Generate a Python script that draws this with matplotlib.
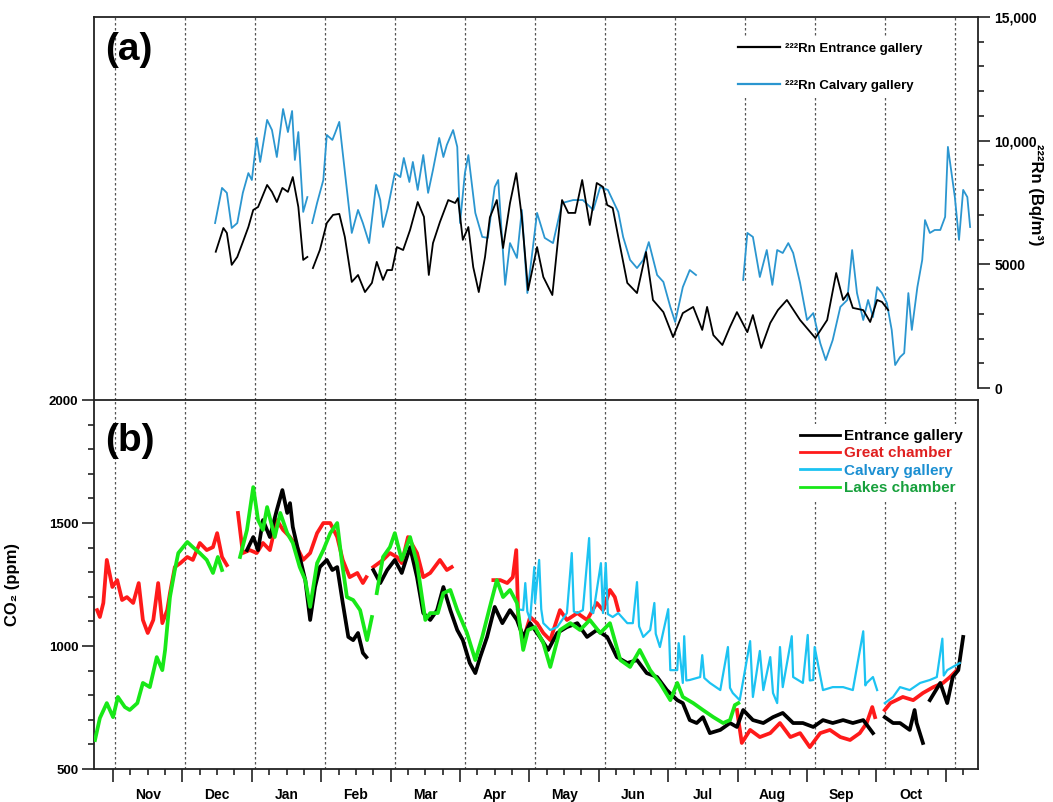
"""Radon and CO2 time series for the cave galleries (two stacked panels)."""

import matplotlib.pyplot as plt
import numpy as np
from matplotlib.ticker import FuncFormatter, MultipleLocator
from matplotlib.transforms import blended_transform_factory

plt.rcParams["font.family"] = ["Liberation Sans", "DejaVu Sans"]
plt.rcParams["font.weight"] = "bold"

# time axis: months since 1 Nov (None in a value list = data gap)
month_labels = ["Nov", "Dec", "Jan", "Feb", "Mar", "Apr",
                "May", "Jun", "Jul", "Aug", "Sep", "Oct"]

# ---- (a) 222Rn, Bq/m3 ----
rn_entrance_t = [1.48, 1.59, 1.64, 1.71, 1.79, 1.87, 1.95, 2.02, 2.09, 2.22, 2.29, 2.36,
                 2.44, 2.52, 2.59, 2.67, 2.74, 2.80, 2.84, 2.88, 2.98, 3.08, 3.17, 3.26,
                 3.34, 3.44, 3.53, 3.63, 3.73, 3.80, 3.89, 3.95, 4.02, 4.09, 4.18, 4.28,
                 4.39, 4.48, 4.55, 4.61, 4.71, 4.83, 4.93, 4.97, 5.04, 5.12, 5.19, 5.27,
                 5.36, 5.43, 5.53, 5.62, 5.72, 5.81, 5.89, 5.98, 6.11, 6.20, 6.33, 6.47,
                 6.56, 6.66, 6.76, 6.87, 6.97, 7.06, 7.12, 7.20, 7.28, 7.41, 7.55, 7.68,
                 7.78, 7.93, 8.07, 8.21, 8.36, 8.49, 8.56, 8.65, 8.78, 8.89, 8.99, 9.14,
                 9.22, 9.34, 9.47, 9.58, 9.71, 9.90, 10.12, 10.29, 10.42, 10.52, 10.59,
                 10.66, 10.81, 10.91, 11.01, 11.08, 11.17]
rn_entrance_v = [5510, 6470, 6270, 4980, 5300, 5900, 6510, 7200, 7320, 8210, 7930, 7520,
                 8090, 7930, 8530, 7320, 5180, 5300, None, 4850, 5580, 6670, 7000, 7040,
                 6110, 4290, 4570, 3880, 4250, 5100, 4370, 4770, 4770, 5700, 5580, 6390,
                 7520, 6920, 4570, 5860, 6710, 7600, 7480, 7680, 5990, 6510, 4890, 3880,
                 5300, 6900, 7600, 5660, 7480, 8690, 6920, 3960, 5700, 4490, 3760, 7600,
                 7080, 7080, 8410, 6590, 8290, 8130, 7400, 7280, 6110, 4250, 3840, 5500,
                 3560, 3070, 2060, 3030, 3280, 2350, 3280, 2140, 1740, 2470, 3070, 2260,
                 2950, 1620, 2630, 3150, 3560, 2750, 2020, 2750, 4650, 3560, 3840,
                 3240, 3150, 2670, 3560, 3480, 3150]

rn_calvary_t = [1.47, 1.57, 1.64, 1.71, 1.79, 1.87, 1.95, 2.00, 2.07, 2.12, 2.22, 2.29,
                2.36, 2.45, 2.52, 2.58, 2.62, 2.67, 2.74, 2.80, 2.84, 2.87, 2.94, 3.03,
                3.08, 3.16, 3.20, 3.26, 3.31, 3.44, 3.53, 3.60, 3.69, 3.79, 3.85, 3.89,
                3.96, 4.06, 4.14, 4.19, 4.27, 4.32, 4.39, 4.47, 4.54, 4.61, 4.70, 4.76,
                4.81, 4.90, 4.96, 5.00, 5.07, 5.12, 5.22, 5.32, 5.40, 5.50, 5.55, 5.65,
                5.72, 5.82, 5.89, 5.97, 6.11, 6.22, 6.34, 6.47, 6.63, 6.77, 6.92, 7.02,
                7.13, 7.28, 7.35, 7.45, 7.55, 7.64, 7.72, 7.84, 7.93, 8.03, 8.10, 8.21,
                8.31, 8.40, 8.70, 9.08, 9.14, 9.22, 9.32, 9.42, 9.50, 9.57, 9.65, 9.73,
                9.80, 9.90, 10.00, 10.09, 10.19, 10.27, 10.37, 10.48, 10.58, 10.65, 10.72,
                10.81, 10.88, 10.95, 11.01, 11.08, 11.15, 11.22, 11.27, 11.34, 11.40,
                11.46, 11.51, 11.59, 11.66, 11.70, 11.77, 11.84, 11.92, 11.99, 12.03,
                12.09, 12.13, 12.19, 12.25, 12.31, 12.35]
rn_calvary_v = [6670, 8090, 7890, 6470, 6670, 7890, 8690, 8410, 10110, 9140, 10840, 10430,
                9340, 11280, 10350, 11200, 9220, 10350, 7120, 7720, None, 6670, 7480, 8410,
                10230, 10030, 10310, 10760, 9500, 6270, 7200, 6670, 5860, 8210, 7600, 6510,
                7280, 8690, 8530, 9300, 8330, 9140, 8010, 9420, 7890, 8820, 10110, 9340,
                9830, 10430, 9750, 6670, 8690, 9420, 7080, 6110, 6070, 8130, 8410, 4170,
                5860, 5260, 7200, 3840, 7080, 6070, 5860, 7480, 7600, 7600, 7200, 8130,
                8010, 7120, 6110, 5180, 4850, 5180, 5900, 4570, 4290, 3280, 2670, 4080,
                4770, 4570, None, 4370, 6270, 6110, 4490, 5580, 4170, 5580, 5460, 5860,
                5460, 4250, 2750, 3030, 1820, 1130, 1940, 3280, 3560, 5580, 3840,
                2750, 3560, 2870, 4080, 3840, 3440, 2350, 930, 1250, 1410,
                3840, 2350, 4080, 5180, 6790, 6270, 6390, 6390, 6920, 9750,
                8530, 7720, 5990, 8010, 7720, 6510]

# ---- (b) CO2, ppm ----
co2_great_t = [-0.23, -0.19, -0.14, -0.09, -0.01, 0.06, 0.13, 0.20, 0.29, 0.37, 0.43, 0.50,
               0.58, 0.65, 0.71, 0.78, 0.82, 0.89, 0.97, 1.07, 1.15, 1.25, 1.35, 1.44,
               1.50, 1.57, 1.64, 1.72, 1.80, 1.87, 1.97, 2.07, 2.16, 2.26, 2.36, 2.45,
               2.55, 2.65, 2.74, 2.84, 2.94, 3.03, 3.13, 3.23, 3.31, 3.41, 3.52, 3.60,
               3.65, 3.70, 3.75, 3.89, 3.99, 4.09, 4.16, 4.25, 4.38, 4.47, 4.57, 4.71,
               4.81, 4.88, 5.20, 5.48, 5.58, 5.68, 5.76, 5.81, 5.84, 5.91, 6.01, 6.11,
               6.20, 6.30, 6.44, 6.54, 6.69, 6.83, 6.97, 7.06, 7.16, 7.23, 7.28, 8.50,
               8.99, 9.06, 9.18, 9.32, 9.47, 9.61, 9.76, 9.90, 10.04, 10.19, 10.33,
               10.48, 10.62, 10.76, 10.86, 10.94, 10.98, 11.05, 11.12, 11.20, 11.38,
               11.53, 11.67, 11.82, 11.96, 12.06, 12.16]
co2_great_v = [1146, 1118, 1175, 1350, 1240, 1268, 1187, 1199, 1175, 1256, 1106, 1053,
               1106, 1256, 1093, 1146, 1215, 1321, 1337, 1362, 1350, 1419, 1390, 1402,
               1459, 1362, 1329, None, 1541, 1378, 1390, 1378, 1419, 1390, 1512, 1472,
               1443, 1402, 1350, 1378, 1459, 1500, 1500, 1443, 1350, 1280, 1297, 1256,
               1280, None, 1321, 1350, 1378, 1362, 1337, 1443, 1378, 1280, 1297, 1350,
               1309, 1321, None, 1268, 1268, 1256, 1280, 1390, 1106, 1024, 1118, 1093,
               1053, 1024, 1146, 1106, 1134, 1106, 1175, 1146, 1228, 1199, 1146, None,
               740, 606, 659, 630, 646, 687, 630, 646, 589, 646, 659,
               630, 618, 646, 687, 752, 711, None, 740, 768, 793,
               780, 809, 833, 850, 874, 902]

co2_entrance_t = [1.93, 2.02, 2.09, 2.16, 2.26, 2.36, 2.44, 2.51, 2.55, 2.59, 2.69, 2.77,
                  2.84, 2.91, 2.98, 3.08, 3.16, 3.23, 3.31, 3.39, 3.46, 3.53, 3.60, 3.65,
                  3.70, 3.75, 3.85, 3.95, 4.06, 4.16, 4.28, 4.38, 4.47, 4.57, 4.67, 4.76,
                  4.86, 4.96, 5.04, 5.14, 5.22, 5.29, 5.39, 5.50, 5.61, 5.72, 5.82, 5.91,
                  6.01, 6.15, 6.27, 6.40, 6.54, 6.69, 6.83, 6.97, 7.12, 7.26, 7.41, 7.55,
                  7.69, 7.84, 7.98, 8.13, 8.21, 8.31, 8.41, 8.50, 8.60, 8.75, 8.89, 8.99,
                  9.08, 9.22, 9.37, 9.51, 9.65, 9.80, 9.94, 10.09, 10.23, 10.37, 10.52,
                  10.66, 10.81, 10.95, 11.03, 11.12, 11.24, 11.34, 11.48, 11.55, 11.58,
                  11.67, 11.72, 11.77, 11.92, 12.02, 12.10, 12.18, 12.25]
co2_entrance_v = [1390, 1443, 1390, 1512, 1443, 1553, 1634, 1541, 1581, 1484, 1362, 1268,
                  1106, 1240, 1321, 1350, 1309, 1321, 1175, 1037, 1024, 1053, 972, 955,
                  None, 1309, 1256, 1309, 1350, 1297, 1402, 1280, 1134, 1106, 1146, 1240,
                  1146, 1065, 1024, 931, 890, 955, 1037, 1159, 1093, 1146, 1106, 1037,
                  1093, 1037, 984, 1053, 1077, 1093, 1037, 1065, 1037, 955, 931, 943,
                  890, 874, 821, 780, 768, 699, 687, 711, 646, 659, 687, 671,
                  740, 699, 687, 711, 728, 687, 687, 671, 699, 687, 699,
                  687, 699, 646, None, 711, 687, 687, 659, 740, 687,
                  606, None, 780, 850, 768, 874, 902, 1037]

co2_calvary_t = [5.82, 5.91, 5.94, 5.97, 6.01, 6.07, 6.08, 6.14, 6.17, 6.20, 6.30, 6.40,
                 6.54, 6.61, 6.64, 6.69, 6.77, 6.86, 6.89, 6.92, 7.03, 7.06, 7.10, 7.13,
                 7.20, 7.28, 7.41, 7.49, 7.55, 7.58, 7.64, 7.74, 7.80, 7.82, 7.88, 8.00,
                 8.03, 8.13, 8.15, 8.21, 8.23, 8.26, 8.31, 8.46, 8.49, 8.52, 8.60, 8.75,
                 8.86, 8.89, 8.93, 9.03, 9.18, 9.22, 9.32, 9.37, 9.47, 9.51, 9.57, 9.61,
                 9.65, 9.78, 9.80, 9.94, 10.01, 10.04, 10.09, 10.11, 10.23, 10.37, 10.52,
                 10.66, 10.81, 10.84, 10.86, 10.95, 11.01, 11.06, 11.12, 11.24, 11.34,
                 11.48, 11.63, 11.77, 11.87, 11.95, 11.97, 12.02, 12.10, 12.20]
co2_calvary_v = [1150, 1146, 1256, 1140, 1106, 1321, 1175, 1350, 1150, 1093, 1065, 1077,
                 1134, 1378, 1140, 1134, 1146, 1439, 1140, 1134, 1337, 1134, 1337, 1130,
                 1118, 1134, 1093, 1093, 1260, 1080, 1037, 1065, 1175, 1050, 996, 1150,
                 902, 902, 1012, 850, 1040, 860, 862, 874, 963, 870, 850, 821,
                 996, 830, 809, 780, 1020, 793, 980, 821, 955, 809, 768, 996,
                 833, 1040, 874, 850, 1045, 860, 862, 996, 821, 833, 833,
                 821, 1060, 840, 850, 874, 821, None, 768, 793, 833,
                 821, 850, 862, 874, 1030, 880, 902, 915, 931]

co2_lakes_t = [-0.26, -0.19, -0.09, 0.00, 0.07, 0.17, 0.24, 0.35, 0.43, 0.53, 0.63, 0.71,
               0.75, 0.82, 0.89, 0.94, 1.07, 1.15, 1.25, 1.35, 1.44, 1.51, 1.57, 1.70,
               1.83, 1.93, 2.02, 2.09, 2.16, 2.22, 2.33, 2.41, 2.51, 2.59, 2.69, 2.77,
               2.84, 2.94, 3.03, 3.13, 3.23, 3.30, 3.37, 3.46, 3.56, 3.66, 3.73, 3.77,
               3.80, 3.89, 3.99, 4.06, 4.16, 4.28, 4.38, 4.50, 4.57, 4.68, 4.76, 4.86,
               4.96, 5.10, 5.22, 5.32, 5.43, 5.53, 5.62, 5.72, 5.82, 5.91, 5.98, 6.08,
               6.20, 6.30, 6.44, 6.59, 6.73, 6.87, 7.02, 7.16, 7.31, 7.45, 7.59, 7.74,
               7.88, 8.03, 8.13, 8.21, 8.36, 8.50, 8.65, 8.79, 8.89, 8.96, 9.01]
co2_lakes_v = [618, 707, 768, 711, 793, 752, 740, 768, 850, 833, 955, 902,
               984, 1199, 1309, 1378, 1423, 1402, 1378, 1350, 1297, 1362, 1309, None,
               1362, 1472, 1646, 1512, 1472, 1565, 1443, 1541, 1459, 1419, 1321, 1268,
               1159, 1337, 1390, 1459, 1500, 1337, 1199, 1187, 1146, 1024, 1118, None,
               1215, 1362, 1402, 1459, 1350, 1443, 1337, 1106, 1134, 1134, 1215, 1228,
               1146, 1053, 943, 1037, 1159, 1268, 1199, 1228, 1175, 984, 1065, 1077,
               1012, 915, 1065, 1093, 1065, 1106, 1053, 1093, 943, 915, 984, 902,
               850, 780, 850, 793, 768, 740, 711, 687, 699, 760, 768]


def as_series(t, v):
    """Turn the hand-read lists into arrays, None -> NaN so lines break."""
    return np.asarray(t, float), np.array([np.nan if x is None else x for x in v], float)


fig = plt.figure(figsize=(10.53, 8.02), dpi=100)
ax_rn = fig.add_axes([0.0893, 0.5012, 0.8395, 0.4776])
ax_co2 = fig.add_axes([0.0893, 0.0411, 0.8395, 0.4601])

x_lim = (-0.274, 12.464)
# dotted month separators (they drift a little from the ticks in the original)
sep_x = np.arange(13) * 1.0086 + 0.03
spine_col = "#222222"
long_tick, short_tick = 8.8, 4.4  # points (about 12 px / 6 px)

# ---------- panel (a) ----------
ax_rn.plot(*as_series(rn_calvary_t, rn_calvary_v), color="#2b96d0", lw=1.3, zorder=3,
           label="²²²Rn Calvary gallery")
ax_rn.plot(*as_series(rn_entrance_t, rn_entrance_v), color="black", lw=1.3, zorder=4,
           label="²²²Rn Entrance gallery")
for xs in sep_x:
    ax_rn.axvline(xs, color="#555555", lw=0.9, ls=(0, (2, 2)), zorder=1)

ax_rn.set_xlim(*x_lim)
ax_rn.set_ylim(-485, 15000)
ax_rn.spines["bottom"].set_visible(False)
ax_rn.spines["right"].set_bounds(0, 15000)
for side in ("top", "left", "right"):
    ax_rn.spines[side].set_linewidth(1.3)
    ax_rn.spines[side].set_color(spine_col)
ax_rn.tick_params(axis="x", bottom=False, labelbottom=False)
ax_rn.yaxis.tick_right()
ax_rn.set_yticks([0, 5000, 10000, 15000])
ax_rn.yaxis.set_minor_locator(MultipleLocator(1000))
ax_rn.yaxis.set_major_formatter(
    FuncFormatter(lambda v, _: f"{int(v):,}" if v >= 10000 else f"{int(v)}"))
ax_rn.tick_params(axis="y", which="major", length=long_tick, width=1.2, labelsize=10,
                  color=spine_col, pad=3)
ax_rn.tick_params(axis="y", which="minor", length=short_tick, width=1.2, color=spine_col)
ax_rn.set_ylabel("²²²Rn (Bq/m³)", fontsize=12, fontweight="bold", rotation=270,
                 va="center")
ax_rn.yaxis.set_label_position("right")
ax_rn.yaxis.set_label_coords(1.073, 0.535)
ax_rn.text(0.013, 0.915, "(a)", transform=ax_rn.transAxes, fontsize=28,
           fontweight="bold", va="center", ha="left")

handles, labels = ax_rn.get_legend_handles_labels()
leg_a = ax_rn.legend(handles[::-1], labels[::-1], loc="upper left",
                     bbox_to_anchor=(0.715, 0.965), frameon=True, fontsize=9.5,
                     handlelength=3.2, handletextpad=0.4, labelspacing=1.9,
                     borderpad=0.4)
leg_a.get_frame().set_facecolor("white")
leg_a.get_frame().set_edgecolor("none")
leg_a.get_frame().set_alpha(1)
leg_a.set_zorder(10)
for h in leg_a.legend_handles:
    h.set_linewidth(1.6)

# ---------- panel (b) ----------
co2_series = [
    (co2_great_t, co2_great_v, "#ff1a1a", 2.7, 2, "Great chamber", "#e02020"),
    (co2_entrance_t, co2_entrance_v, "black", 2.7, 3, "Entrance gallery", "black"),
    (co2_calvary_t, co2_calvary_v, "#1cc3f2", 1.6, 4, "Calvary gallery", "#1b8fd2"),
    (co2_lakes_t, co2_lakes_v, "#18e818", 2.7, 5, "Lakes chamber", "#17a03c"),
]
lines = {}
for t, v, col, lw, z, name, _ in co2_series:
    (ln,) = ax_co2.plot(*as_series(t, v), color=col, lw=lw, zorder=z, label=name)
    lines[name] = ln
for xs in sep_x:
    ax_co2.axvline(xs, color="#555555", lw=0.9, ls=(0, (2, 2)), zorder=1)

ax_co2.set_xlim(*x_lim)
ax_co2.set_ylim(500, 2000)
for side in ax_co2.spines:
    ax_co2.spines[side].set_linewidth(1.3)
    ax_co2.spines[side].set_color(spine_col)
ax_co2.set_yticks([500, 1000, 1500, 2000])
ax_co2.yaxis.set_minor_locator(MultipleLocator(100))
ax_co2.tick_params(axis="y", which="major", length=long_tick, width=1.2, labelsize=9.5,
                   color=spine_col, pad=2.5)
ax_co2.tick_params(axis="y", which="minor", length=short_tick, width=1.2, color=spine_col)
ax_co2.set_xticks(np.arange(13))
ax_co2.set_xticks([k + q for k in range(13) for q in (0.25, 0.5, 0.75) if k + q < 12.46],
                  minor=True)
ax_co2.tick_params(axis="x", which="major", length=9.4, width=1.2, labelbottom=False,
                   color=spine_col)
ax_co2.tick_params(axis="x", which="minor", length=short_tick, width=1.2, color=spine_col)
trans = blended_transform_factory(ax_co2.transData, ax_co2.transAxes)
for k, name in enumerate(month_labels):
    ax_co2.annotate(name, (k + 0.5, 0), xycoords=trans, xytext=(0, -19),
                    textcoords="offset points", ha="center", va="center",
                    fontsize=10, fontweight="bold")
ax_co2.set_ylabel("CO₂ (ppm)", fontsize=12, fontweight="bold")
ax_co2.yaxis.set_label_coords(-0.084, 0.5)
ax_co2.text(0.013, 0.888, "(b)", transform=ax_co2.transAxes, fontsize=28,
            fontweight="bold", va="center", ha="left")

order = ["Entrance gallery", "Great chamber", "Calvary gallery", "Lakes chamber"]
text_cols = {s[5]: s[6] for s in co2_series}
leg_b = ax_co2.legend([lines[n] for n in order], order, loc="upper left",
                      bbox_to_anchor=(0.785, 0.955), frameon=True, fontsize=11,
                      handlelength=2.6, handletextpad=0.3, labelspacing=0.22,
                      borderpad=0.3)
leg_b.get_frame().set_facecolor("white")
leg_b.get_frame().set_edgecolor("none")
leg_b.get_frame().set_alpha(1)
leg_b.set_zorder(10)
for txt, n in zip(leg_b.get_texts(), order):
    txt.set_color(text_cols[n])
for h in leg_b.legend_handles:
    h.set_linewidth(2.0)

fig.savefig("out.png", dpi=100)
